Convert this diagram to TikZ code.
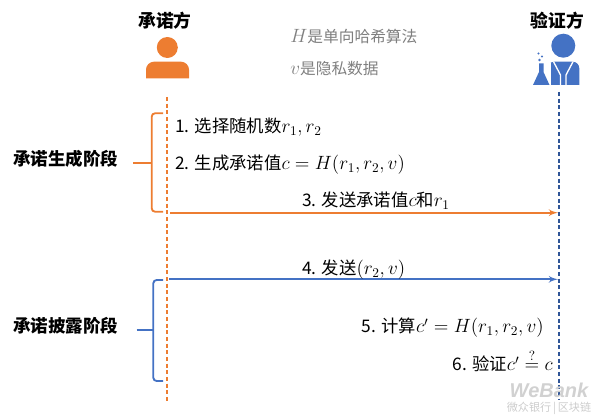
\documentclass[tikz,border=0pt]{standalone}
\usepackage{amsmath}
\usepackage{fontspec}
\setmainfont{Noto Sans CJK SC}
\newfontfamily\markfont{Liberation Sans}
\usetikzlibrary{arrows, positioning}
\definecolor{proverOrange}{HTML}{ED7D31}
\definecolor{verifierBlue}{HTML}{4472C4}
\definecolor{verifierDark}{HTML}{2F5597}
\definecolor{hintGray}{HTML}{7F7F7F}
% 公式略大一些
\newcommand\stepmath[1]{{\fontsize{14}{16}\selectfont$#1$}}

\begin{document}
\begin{tikzpicture}[
            x=0.75pt, y=-0.75pt,
            >=latex',
            role/.style={font=\fontsize{13.3}{16}\selectfont\bfseries},
            phase/.style={font=\fontsize{13.1}{16}\selectfont\bfseries},
            stepnote/.style={font=\fontsize{13}{15}\selectfont, inner sep=0pt},
            hint/.style={font=\fontsize{11.8}{14}\selectfont, text=hintGray, inner sep=0pt},
            lifeline/.style={draw, line width=1.3pt, dash pattern=on 3pt off 2pt},
            msg/.style={draw, ->, line width=1.4pt},
            brace/.style={draw, line width=1.4pt, rounded corners=2.5pt}
        ]
            \useasboundingbox (0,0) rectangle (600,416);

            % 两个角色
            \node [role] (prover) at (165,20.7) {承诺方};
            \node [role] (verifier) at (557.5,20.7) {验证方};

            % 承诺方图标
            \fill [proverOrange] (167.3,47.5) circle (10.5);
            \fill [proverOrange] (146,78.3) [rounded corners=6pt] -- (146,61.7) -- (189,61.7) [sharp corners] -- (189,78.3) -- cycle;

            % 验证方图标
            \fill [verifierBlue] (563.3,45.7) circle (12);
            \fill [verifierBlue] (547.7,85) [rounded corners=5pt] -- (547.7,61.7) -- (579.3,61.7) [sharp corners] -- (579.3,85) -- cycle;
            \draw [white, line width=1pt] (553.5,61.7) -- (560.5,75) -- (560.5,85)
                                          (573,61.7) -- (566,75) -- (566,85);
            \fill [white] (531,63) rectangle (550.5,85.5);
            \fill [verifierBlue] (539,63.5) -- (543.5,63.5) -- (543.5,72) -- (549.5,85) -- (533,85) -- (539,72) -- cycle;
            \fill [verifierBlue] (538.5,53.5) circle (1.2) (542,56.5) circle (1.2) (539.5,60) circle (1.4);

            % 说明
            \node [hint, anchor=base west] (hashnote) at (290,42.7) {\stepmath{H}是单向哈希算法};
            \node [hint, anchor=base west] (datanote) at (290,74.3) {\stepmath{v}是隐私数据};

            % 生命线
            \coordinate (pTop) at (166.7,97);
            \coordinate (pBot) at (166.7,403);
            \coordinate (vTop) at (559.3,92);
            \coordinate (vBot) at (559.3,400);
            \path [lifeline, proverOrange] (pTop) -- (pBot);
            \path [lifeline, verifierDark] (vTop) -- (vBot);

            % 承诺生成阶段
            \node [phase] (genphase) at (65.8,159.3) {承诺生成阶段};
            \coordinate (genTip) at (133,163.3);
            \draw [brace, proverOrange] (163,113.3) -- (151.7,113.3) -- (151.7,211.7) -- (163,211.7);
            \draw [proverOrange, line width=1.4pt] (genTip) -- (151.7,163.3);
            \node [stepnote, anchor=base west] (step1) at (175,133) {1. 选择随机数\stepmath{r_1, r_2}};
            \node [stepnote, anchor=base west] (step2) at (175,170) {2. 生成承诺值\stepmath{c = H(r_1, r_2, v)}};
            \coordinate (send1s) at (170,212.7);
            \coordinate (send1e) at (558,212.7);
            \path [msg, proverOrange] (send1s) -- (send1e);
            \node [stepnote, anchor=base west] (step3) at (302,206.5) {3. 发送承诺值\stepmath{c}和\stepmath{r_1}};

            % 承诺披露阶段
            \node [phase] (openphase) at (65.8,326) {承诺披露阶段};
            \coordinate (openTip) at (136.7,330);
            \draw [brace, verifierBlue] (163,280) -- (153.3,280) -- (153.3,381) -- (163,381);
            \draw [verifierBlue, line width=1.4pt] (openTip) -- (153.3,330);
            \coordinate (send2s) at (169.3,279.3);
            \coordinate (send2e) at (558,279.3);
            \path [msg, verifierBlue] (send2s) -- (send2e);
            \node [stepnote, anchor=base west] (step4) at (302,275) {4. 发送\stepmath{(r_2, v)}};
            \node [stepnote, anchor=base east] (step5) at (544,333) {5. 计算\stepmath{c' = H(r_1, r_2, v)}};
            \node [stepnote, anchor=base east] (step6) at (553,371) {6. 验证\stepmath{c' \overset{?}{=} c}};

            % 水印
            \node [font=\markfont\fontsize{15}{18}\selectfont\bfseries\itshape, text=black!18, inner sep=0pt] (mark) at (549,390) {WeBank};
            \node [font=\fontsize{8.3}{10}\selectfont, text=black!20, below=3pt of mark, inner sep=0pt] (markcn) {微众银行\,|\,区块链};
        \end{tikzpicture}
\end{document}
